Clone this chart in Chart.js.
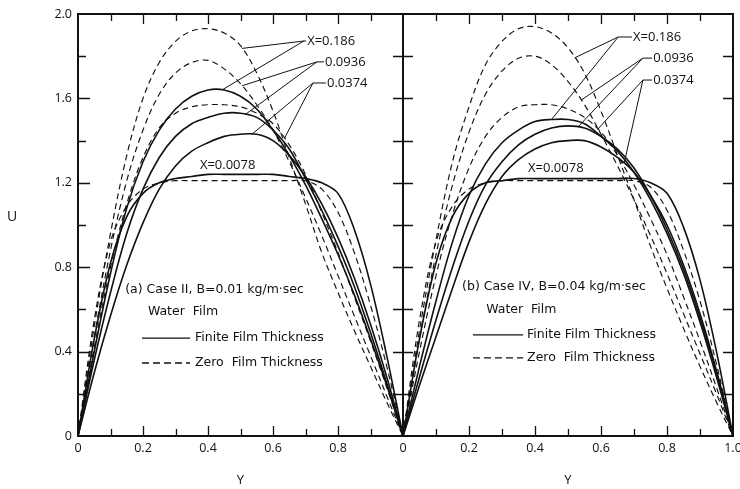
<!DOCTYPE html>
<html>
<head>
<meta charset="utf-8">
<script src="https://cdn.jsdelivr.net/npm/chart.js@4/dist/chart.umd.min.js"></script>
<style>
  html, body { margin: 0; padding: 0; background: #fff; }
  canvas { display: block; }
</style>
</head>
<body>
<canvas id="chart" width="740" height="489"></canvas>
<script>
// Dimensionless transverse position Y across the channel
const yPos = [0, 0.05, 0.10, 0.15, 0.20, 0.25, 0.30, 0.35, 0.40, 0.45, 0.50,
              0.55, 0.60, 0.65, 0.70, 0.75, 0.80, 0.85, 0.90, 0.95, 1.00];

// Axial stations X shown in both panels
const xStations = ['0.186', '0.0936', '0.0374', '0.0078'];

// (a) Case II, B = 0.01 kg/m·sec — finite film thickness (solid)
const caseII_finite_0186  = [0, 0.40, 0.77, 1.08, 1.30, 1.45, 1.55, 1.61, 1.64, 1.64, 1.61, 1.55, 1.45, 1.33, 1.19, 1.03, 0.86, 0.67, 0.46, 0.24, 0];
const caseII_finite_00936 = [0, 0.36, 0.68, 0.96, 1.17, 1.32, 1.42, 1.48, 1.51, 1.53, 1.53, 1.51, 1.45, 1.36, 1.22, 1.07, 0.90, 0.71, 0.49, 0.25, 0];
const caseII_finite_00374 = [0, 0.30, 0.57, 0.81, 1.01, 1.17, 1.28, 1.35, 1.39, 1.42, 1.43, 1.43, 1.40, 1.33, 1.23, 1.10, 0.94, 0.75, 0.53, 0.28, 0];
const caseII_finite_00078 = [0, 0.46, 0.82, 1.04, 1.15, 1.20, 1.22, 1.23, 1.24, 1.24, 1.24, 1.24, 1.24, 1.23, 1.22, 1.20, 1.15, 0.98, 0.72, 0.38, 0];
// (a) Case II — zero film thickness (dashed)
const caseII_zero_0186  = [0, 0.52, 0.96, 1.33, 1.60, 1.77, 1.87, 1.92, 1.93, 1.91, 1.85, 1.72, 1.54, 1.32, 1.10, 0.87, 0.68, 0.50, 0.33, 0.16, 0];
const caseII_zero_00936 = [0, 0.47, 0.88, 1.21, 1.45, 1.62, 1.72, 1.77, 1.78, 1.74, 1.67, 1.57, 1.45, 1.30, 1.13, 0.95, 0.76, 0.57, 0.38, 0.19, 0];
const caseII_zero_00374 = [0, 0.42, 0.80, 1.10, 1.32, 1.46, 1.53, 1.56, 1.57, 1.57, 1.56, 1.53, 1.48, 1.38, 1.24, 1.06, 0.87, 0.66, 0.45, 0.23, 0];
const caseII_zero_00078 = [0, 0.55, 0.92, 1.09, 1.17, 1.20, 1.21, 1.21, 1.21, 1.21, 1.21, 1.21, 1.21, 1.21, 1.21, 1.17, 1.06, 0.87, 0.62, 0.33, 0];

// (b) Case IV, B = 0.04 kg/m·sec — finite film thickness (solid)
const caseIV_finite_0186  = [0, 0.33, 0.64, 0.92, 1.14, 1.29, 1.39, 1.45, 1.49, 1.50, 1.50, 1.48, 1.42, 1.35, 1.25, 1.12, 0.96, 0.77, 0.54, 0.28, 0];
const caseIV_finite_00936 = [0, 0.28, 0.55, 0.80, 1.02, 1.19, 1.30, 1.38, 1.43, 1.46, 1.47, 1.46, 1.42, 1.36, 1.27, 1.14, 0.98, 0.79, 0.56, 0.30, 0];
const caseIV_finite_00374 = [0, 0.24, 0.47, 0.70, 0.92, 1.10, 1.23, 1.31, 1.36, 1.39, 1.40, 1.40, 1.37, 1.32, 1.25, 1.14, 1.00, 0.81, 0.58, 0.31, 0];
const caseIV_finite_00078 = [0, 0.46, 0.82, 1.04, 1.15, 1.20, 1.21, 1.22, 1.22, 1.22, 1.22, 1.22, 1.22, 1.22, 1.22, 1.20, 1.15, 0.99, 0.74, 0.40, 0];
// (b) Case IV — zero film thickness (dashed)
const caseIV_zero_0186  = [0, 0.50, 0.93, 1.30, 1.56, 1.76, 1.87, 1.93, 1.94, 1.91, 1.84, 1.72, 1.54, 1.33, 1.12, 0.90, 0.70, 0.51, 0.33, 0.16, 0];
const caseIV_zero_00936 = [0, 0.46, 0.86, 1.19, 1.44, 1.62, 1.73, 1.79, 1.80, 1.76, 1.68, 1.57, 1.43, 1.28, 1.12, 0.95, 0.77, 0.58, 0.39, 0.20, 0];
const caseIV_zero_00374 = [0, 0.40, 0.76, 1.05, 1.27, 1.42, 1.51, 1.56, 1.57, 1.57, 1.55, 1.51, 1.44, 1.33, 1.19, 1.03, 0.86, 0.66, 0.45, 0.23, 0];
const caseIV_zero_00078 = [0, 0.55, 0.92, 1.09, 1.17, 1.20, 1.21, 1.21, 1.21, 1.21, 1.21, 1.21, 1.21, 1.21, 1.21, 1.18, 1.07, 0.88, 0.64, 0.34, 0];

// Tick values and labels
const uTickValues  = [0, 0.4, 0.8, 1.2, 1.6, 2.0];
const uTickLabels  = ['0', '0.4', '0.8', '1.2', '1.6', '2.0'];
const uMinorValues = [0.2, 0.4, 0.6, 0.8, 1.0, 1.2, 1.4, 1.6, 1.8];
const yTickValuesA = [0, 0.2, 0.4, 0.6, 0.8];
const yTickValuesB = [0, 0.2, 0.4, 0.6, 0.8, 1.0];
const yTickLabels  = ['0', '0.2', '0.4', '0.6', '0.8', '1.0'];
const yMinorValues = [0.1, 0.2, 0.3, 0.4, 0.5, 0.6, 0.7, 0.8, 0.9];

// ---------------------------------------------------------------------------
const INK = '#111';
const FONT = '"Open Sans", "DejaVu Sans", sans-serif';
const NOTE_FONT = '"DejaVu Sans", sans-serif';

const panels = {
  a: { axis: 'xa', finite: [caseII_finite_0186, caseII_finite_00936, caseII_finite_00374, caseII_finite_00078],
                   zero:   [caseII_zero_0186,   caseII_zero_00936,   caseII_zero_00374,   caseII_zero_00078] },
  b: { axis: 'xb', finite: [caseIV_finite_0186, caseIV_finite_00936, caseIV_finite_00374, caseIV_finite_00078],
                   zero:   [caseIV_zero_0186,   caseIV_zero_00936,   caseIV_zero_00374,   caseIV_zero_00078] }
};

function curveOf(panel, kind, station) {
  return panels[panel][kind][xStations.indexOf(station)];
}

const datasets = [];
for (const p of ['a', 'b']) {
  for (const kind of ['zero', 'finite']) {
    xStations.forEach((st, i) => {
      const vals = panels[p][kind][i];
      datasets.push({
        label: '(' + p + ') X=' + st + ' ' + kind,
        data: yPos.map((y, k) => ({ x: y, y: vals[k] })),
        xAxisID: panels[p].axis,
        yAxisID: 'y',
        borderColor: INK,
        borderWidth: kind === 'finite' ? 1.6 : 1.15,
        borderDash: kind === 'finite' ? [] : [6, 4],
        pointRadius: 0,
        fill: false,
        tension: 0.35
      });
    });
  }
}

// Station labels with leader lines (positions in Y,U data units)
const leaders = [
  { panel: 'a', text: 'X=0.186', hub: [0.695, 1.872], textY: 0.705, targets: [['zero', '0.186', 0.505], ['finite', '0.186', 0.443]] },
  { panel: 'a', text: '0.0936',  hub: [0.735, 1.773], textY: 0.760, targets: [['zero', '0.0936', 0.505], ['finite', '0.0936', 0.515]] },
  { panel: 'a', text: '0.0374',  hub: [0.723, 1.673], textY: 0.766, targets: [['finite', '0.0374', 0.535], ['zero', '0.0374', 0.635]] },
  { panel: 'b', text: 'X=0.186', hub: [0.652, 1.891], textY: 0.697, targets: [['zero', '0.186', 0.52], ['finite', '0.186', 0.45]] },
  { panel: 'b', text: '0.0936',  hub: [0.727, 1.791], textY: 0.758, targets: [['zero', '0.0936', 0.54], ['finite', '0.0936', 0.53]] },
  { panel: 'b', text: '0.0374',  hub: [0.727, 1.687], textY: 0.758, targets: [['zero', '0.0374', 0.59], ['finite', '0.0374', 0.67]] }
];
const plainLabels = [
  { panel: 'a', text: 'X=0.0078', at: [0.375, 1.284] },
  { panel: 'b', text: 'X=0.0078', at: [0.379, 1.270] }
];
const legends = {
  a: { title: '(a) Case II, B=0.01 kg/m\u00b7sec', titleAt: [0.145, 0.692], waterAt: [0.215, 0.588],
       lineFrom: 0.197, lineTo: 0.345, textY: 0.360, solidU: 0.464, dashU: 0.346 },
  b: { title: '(b) Case IV, B=0.04 kg/m\u00b7sec', titleAt: [0.179, 0.706], waterAt: [0.252, 0.597],
       lineFrom: 0.212, lineTo: 0.364, textY: 0.376, solidU: 0.479, dashU: 0.370 }
};

function valueAt(vals, y) {
  for (let i = 1; i < yPos.length; i++) {
    if (y <= yPos[i]) {
      const t = (y - yPos[i - 1]) / (yPos[i] - yPos[i - 1]);
      return vals[i - 1] + t * (vals[i] - vals[i - 1]);
    }
  }
  return vals[vals.length - 1];
}

// Boxed frame with inward tick marks on every side
const framePlugin = {
  id: 'frame',
  afterDatasetsDraw(chart) {
    const { ctx, chartArea: ca, scales } = chart;
    const xa = scales.xa, xb = scales.xb, y = scales.y;
    ctx.save();
    ctx.strokeStyle = INK;
    ctx.lineCap = 'butt';
    ctx.lineWidth = 2;
    ctx.strokeRect(ca.left, ca.top, ca.right - ca.left, ca.bottom - ca.top);
    const mid = xa.right;
    ctx.beginPath(); ctx.moveTo(mid, ca.top); ctx.lineTo(mid, ca.bottom); ctx.stroke();

    ctx.lineWidth = 1.3;
    ctx.beginPath();
    for (const s of [xa, xb]) {
      yMinorValues.forEach((v, i) => {
        const px = Math.round(s.getPixelForValue(v)) + 0.5;
        const len = (i % 2 === 1) ? 10 : 7;
        ctx.moveTo(px, ca.bottom); ctx.lineTo(px, ca.bottom - len);
        ctx.moveTo(px, ca.top);    ctx.lineTo(px, ca.top + len);
      });
    }
    uMinorValues.forEach((v, i) => {
      const py = Math.round(y.getPixelForValue(v)) + 0.5;
      const major = (i % 2 === 1);
      ctx.moveTo(ca.left, py);  ctx.lineTo(ca.left + (major ? 12 : 8), py);
      ctx.moveTo(mid - 10, py); ctx.lineTo(mid + 10, py);
      ctx.moveTo(ca.right, py); ctx.lineTo(ca.right - 10, py);
    });
    ctx.stroke();
    ctx.restore();
  }
};

// Station labels, leader lines, in-panel legends and the U axis title
const notesPlugin = {
  id: 'notes',
  afterDraw(chart) {
    const { ctx, scales } = chart;
    const y = scales.y;
    const sx = p => scales[panels[p].axis];
    ctx.save();
    ctx.fillStyle = INK;
    ctx.strokeStyle = INK;
    ctx.textBaseline = 'middle';
    ctx.textAlign = 'left';

    ctx.font = '13px ' + FONT;
    ctx.lineWidth = 1;
    for (const L of leaders) {
      const xs = sx(L.panel);
      const hx = xs.getPixelForValue(L.hub[0]), hy = y.getPixelForValue(L.hub[1]);
      const tx = xs.getPixelForValue(L.textY);
      ctx.beginPath();
      for (const [kind, st, yy] of L.targets) {
        const u = valueAt(curveOf(L.panel, kind, st), yy);
        ctx.moveTo(hx, hy);
        ctx.lineTo(xs.getPixelForValue(yy), y.getPixelForValue(u));
      }
      ctx.moveTo(hx, hy); ctx.lineTo(tx - 1, hy);
      ctx.stroke();
      ctx.fillText(L.text, tx, hy);
    }
    for (const L of plainLabels) {
      const xs = sx(L.panel);
      ctx.fillText(L.text, xs.getPixelForValue(L.at[0]), y.getPixelForValue(L.at[1]));
    }

    ctx.font = '12.5px ' + NOTE_FONT;
    for (const p of ['a', 'b']) {
      const xs = sx(p), G = legends[p];
      ctx.fillText(G.title, xs.getPixelForValue(G.titleAt[0]), y.getPixelForValue(G.titleAt[1]));
      ctx.fillText('Water  Film', xs.getPixelForValue(G.waterAt[0]), y.getPixelForValue(G.waterAt[1]));
      const x0 = xs.getPixelForValue(G.lineFrom), x1 = xs.getPixelForValue(G.lineTo);
      const tx = xs.getPixelForValue(G.textY);
      const ys = y.getPixelForValue(G.solidU), yd = y.getPixelForValue(G.dashU);
      ctx.lineWidth = 1.3;
      ctx.setLineDash([]);
      ctx.beginPath(); ctx.moveTo(x0, ys); ctx.lineTo(x1, ys); ctx.stroke();
      ctx.setLineDash([7, 4]);
      ctx.beginPath(); ctx.moveTo(x0, yd); ctx.lineTo(x1, yd); ctx.stroke();
      ctx.setLineDash([]);
      ctx.fillText('Finite Film Thickness', tx, ys);
      ctx.fillText('Zero  Film Thickness', tx, yd);
    }

    ctx.font = '14px ' + FONT;
    ctx.textAlign = 'center';
    ctx.fillText('U', 12, y.getPixelForValue(1.04));
    ctx.restore();
  }
};

function xScale(ticks, weight) {
  return {
    type: 'linear',
    position: 'bottom',
    stack: 'panels',
    stackWeight: weight,
    min: 0, max: 1,
    grid: { display: false, drawTicks: false },
    border: { display: false },
    afterBuildTicks: s => { s.ticks = ticks.map(v => ({ value: v })); },
    afterFit: s => { s.height = 53; s.paddingLeft = 0; s.paddingRight = 0; },
    ticks: {
      autoSkip: false, maxRotation: 0, padding: 5, color: INK,
      font: { family: FONT, size: 12.5 },
      callback: v => yTickLabels[yTickValuesB.findIndex(t => Math.abs(t - v) < 1e-9)]
    },
    title: { display: true, text: 'Y', color: INK, font: { family: FONT, size: 13 }, padding: { top: 0, bottom: 1 } }
  };
}

new Chart(document.getElementById('chart'), {
  type: 'line',
  data: { datasets },
  options: {
    responsive: false,
    animation: false,
    devicePixelRatio: 1,
    layout: { padding: { left: 0, right: 7, top: 14, bottom: 0 } },
    plugins: { legend: { display: false }, tooltip: { enabled: false } },
    scales: {
      xa: xScale(yTickValuesA, 325),
      xb: xScale(yTickValuesB, 330),
      y: {
        type: 'linear',
        position: 'left',
        min: 0, max: 2,
        grid: { display: false, drawTicks: false },
        border: { display: false },
        afterBuildTicks: s => { s.ticks = uTickValues.map(v => ({ value: v })); },
        afterFit: s => { s.width = 78; s.paddingTop = 0; s.paddingBottom = 0; },
        ticks: {
          padding: 6, color: INK,
          font: { family: FONT, size: 12.5 },
          callback: v => uTickLabels[uTickValues.findIndex(t => Math.abs(t - v) < 1e-9)]
        }
      }
    }
  },
  plugins: [framePlugin, notesPlugin]
});
</script>
</body>
</html>
